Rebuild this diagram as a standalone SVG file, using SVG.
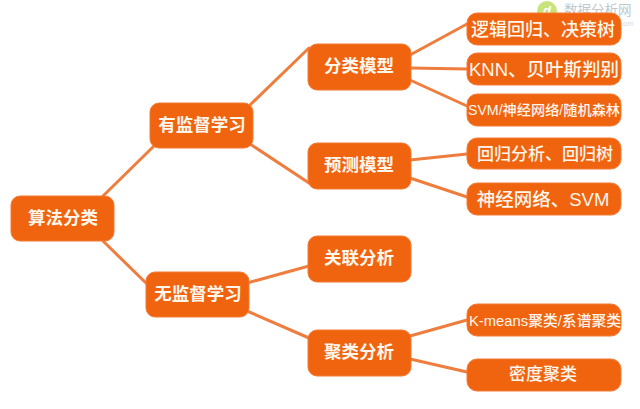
<svg xmlns="http://www.w3.org/2000/svg" width="640" height="409" viewBox="0 0 640 409">
<style>
.n{fill:#f0640f;stroke:#f27a35;stroke-width:1}
.t{fill:#fff6ec;font-family:"Liberation Sans","Noto Sans CJK SC",sans-serif;font-weight:700;text-anchor:middle;font-size:17.5px}
.l{font-weight:500}
#connectors line{stroke:#ee7d3e;stroke-width:3;stroke-linecap:round}
.w{font-family:"Noto Sans CJK SC","Liberation Sans",sans-serif;fill:#a9b8bd}
</style>
<rect width="640" height="409" fill="#fff"/>
<g id="watermark">
<circle cx="547" cy="11" r="10" fill="#b5d94c" opacity=".75"/>
<text x="547" y="15" font-family="Liberation Sans,sans-serif" font-size="13" font-style="italic" font-weight="700" fill="#fff" text-anchor="middle">d</text>
<text class="w" x="564" y="15" font-size="13.5" opacity=".75">数据分析网</text>
<text class="w" x="623" y="26" font-size="7" opacity=".5">om</text>
</g>
<g id="connectors">
<line x1="103" y1="196" x2="154" y2="146"/>
<line x1="103" y1="241" x2="146" y2="283"/>
<line x1="250" y1="105" x2="309" y2="48"/>
<line x1="250" y1="144" x2="309" y2="183"/>
<line x1="247" y1="283" x2="309" y2="266"/>
<line x1="247" y1="311" x2="309" y2="338"/>
<line x1="410" y1="55" x2="467" y2="24"/>
<line x1="410" y1="68" x2="467" y2="69"/>
<line x1="410" y1="80" x2="467" y2="106"/>
<line x1="410" y1="160" x2="467" y2="154"/>
<line x1="410" y1="178" x2="467" y2="197"/>
<line x1="410" y1="336" x2="467" y2="320"/>
<line x1="410" y1="359" x2="467" y2="372"/>
</g>
<g id="root"><rect class="n" x="11" y="196" width="103" height="45" rx="9"/><text class="t" x="63" y="224">算法分类</text></g>
<g id="supervised"><rect class="n" x="150" y="103" width="103" height="45" rx="9"/><text class="t" x="202" y="131">有监督学习</text></g>
<g id="unsupervised"><rect class="n" x="146" y="272" width="103" height="45" rx="9"/><text class="t" x="198" y="300">无监督学习</text></g>
<g id="classification"><rect class="n" x="308" y="44" width="103" height="46" rx="9"/><text class="t" x="359" y="72">分类模型</text></g>
<g id="prediction"><rect class="n" x="308" y="143" width="103" height="46" rx="9"/><text class="t" x="359" y="171">预测模型</text></g>
<g id="association"><rect class="n" x="308" y="236" width="103" height="46" rx="9"/><text class="t" x="359" y="264">关联分析</text></g>
<g id="clustering"><rect class="n" x="308" y="330" width="103" height="46" rx="9"/><text class="t" x="359" y="358">聚类分析</text></g>
<g id="leaf1"><rect class="n" x="467" y="13" width="154" height="32" rx="10"/><text class="t l" x="543" y="36" style="font-size:18px">逻辑回归、决策树</text></g>
<g id="leaf2"><rect class="n" x="467" y="53" width="154" height="32" rx="10"/><text class="t l" x="544" y="76" style="font-size:18.5px">KNN、贝叶斯判别</text></g>
<g id="leaf3"><rect class="n" x="467" y="94" width="154" height="32" rx="10"/><text class="t l" x="544" y="115" style="font-size:14.2px">SVM/神经网络/随机森林</text></g>
<g id="leaf4"><rect class="n" x="467" y="138" width="154" height="31" rx="10"/><text class="t l" x="545" y="160" style="font-size:17px">回归分析、回归树</text></g>
<g id="leaf5"><rect class="n" x="467" y="183" width="154" height="32" rx="10"/><text class="t l" x="543" y="206" style="font-size:18.5px">神经网络、SVM</text></g>
<g id="leaf6"><rect class="n" x="467" y="304" width="154" height="32" rx="10"/><text class="t l" x="545" y="326" style="font-size:14.8px">K-means聚类/系谱聚类</text></g>
<g id="leaf7"><rect class="n" x="467" y="359" width="154" height="32" rx="10"/><text class="t l" x="543" y="380" style="font-size:17px">密度聚类</text></g>
</svg>
